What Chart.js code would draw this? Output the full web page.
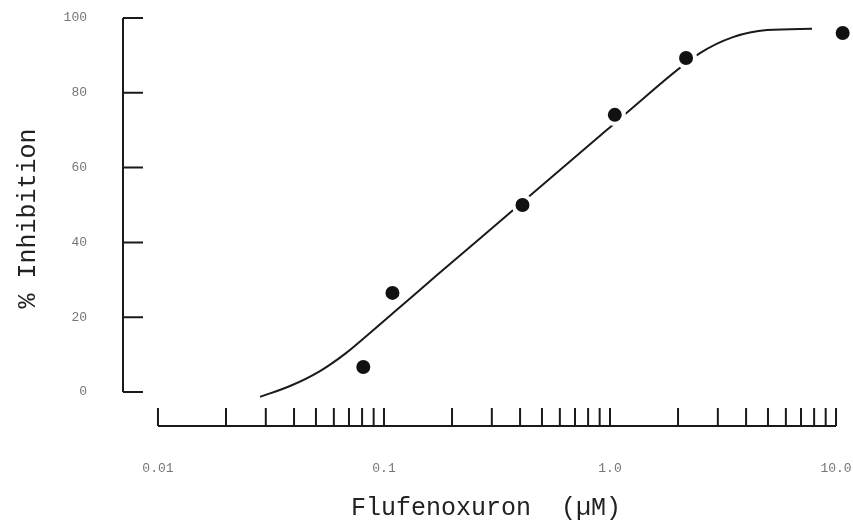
<!DOCTYPE html>
<html>
<head>
<meta charset="utf-8">
<script src="https://cdn.jsdelivr.net/npm/chart.js@4"></script>
<style>
  html, body { margin: 0; padding: 0; background: #fff; }
  #wrap { width: 853px; height: 524px; }
</style>
</head>
<body>
<div id="wrap"><canvas id="chart"></canvas></div>
<script>
// measured points (uM, % inhibition)
const concentrations = [0.081, 0.109, 0.41, 1.05, 2.17, 10.7];
const inhibition = [6.7, 26.5, 50.0, 74.1, 89.3, 96.0];

// fitted curve
const curveX = [0.0283, 0.0384, 0.0521, 0.0672, 0.0867, 0.1178, 0.1717, 0.361, 0.970, 1.226, 2.50, 3.50, 4.95, 7.83];
const curveY = [-1.3, 1.6, 5.6, 10.2, 15.8, 22.7, 31.3, 47.9, 70.1, 75.4, 90.6, 94.9, 96.8, 97.1];

// axis labels
const xLabelValues = [0.01, 0.1, 1, 10];
const xTickLabels = ['0.01', '0.1', '1.0', '10.0'];
const yTickValues = [0, 20, 40, 60, 80, 100];

// tick marks on the log axis: 1..9 in each decade, then 10
const xMinorTicks = [];
[0.01, 0.1, 1].forEach(d => {
    for (let m = 1; m <= 9; m++) xMinorTicks.push(+(d * m).toPrecision(3));
});
xMinorTicks.push(10);

const mono = "'Liberation Mono', 'DejaVu Sans Mono', monospace";

// draws the typewriter-style axes with ticks pointing into the plot
const paperAxes = {
    id: 'paperAxes',
    beforeDatasetsDraw(chart) {
        const { ctx, chartArea, scales: { x, y } } = chart;
        ctx.save();
        ctx.strokeStyle = '#1a1a1a';
        ctx.lineWidth = 2;

        const yl = chartArea.left + 1;
        ctx.beginPath();
        ctx.moveTo(yl, y.getPixelForValue(100));
        ctx.lineTo(yl, y.getPixelForValue(0));
        yTickValues.forEach(v => {
            const py = y.getPixelForValue(v);
            ctx.moveTo(yl, py);
            ctx.lineTo(yl + 20, py);
        });
        ctx.stroke();

        const xb = chartArea.bottom - 1;
        ctx.beginPath();
        ctx.moveTo(x.getPixelForValue(0.01), xb);
        ctx.lineTo(x.getPixelForValue(10), xb);
        xMinorTicks.forEach(v => {
            const px = x.getPixelForValue(v);
            ctx.moveTo(px, xb);
            ctx.lineTo(px, xb - 18);
        });
        ctx.stroke();
        ctx.restore();
    }
};

new Chart(document.getElementById('chart'), {
    type: 'scatter',
    data: {
        datasets: [
            {
                label: 'Measured',
                data: concentrations.map((c, i) => ({ x: c, y: inhibition[i] })),
                pointRadius: 9,
                pointHoverRadius: 9,
                pointBorderWidth: 4,
                pointBorderColor: '#ffffff',
                pointBackgroundColor: '#111111',
                clip: false
            },
            {
                label: 'Fit',
                data: curveX.map((c, i) => ({ x: c, y: curveY[i] })),
                showLine: true,
                pointRadius: 0,
                borderColor: '#1a1a1a',
                borderWidth: 2,
                cubicInterpolationMode: 'monotone'
            }
        ]
    },
    options: {
        responsive: true,
        maintainAspectRatio: false,
        animation: false,
        layout: { autoPadding: false, padding: { top: 10, right: 3, bottom: 0, left: 0 } },
        plugins: {
            legend: { display: false },
            tooltip: { enabled: false }
        },
        scales: {
            x: {
                type: 'logarithmic',
                min: 0.006932,
                max: 11.53,
                grid: { display: false, drawTicks: false },
                border: { display: false },
                afterBuildTicks: s => { s.ticks = xLabelValues.map(v => ({ value: v })); },
                afterFit: s => { s.height = 97; s.paddingLeft = 0; s.paddingRight = 0; },
                ticks: {
                    padding: 34,
                    autoSkip: false,
                    maxRotation: 0,
                    color: '#777',
                    font: { family: mono, size: 13 },
                    callback: v => xTickLabels[xLabelValues.indexOf(v)] ?? ''
                },
                title: {
                    display: true,
                    text: 'Flufenoxuron  (\u00b5M)',
                    color: '#222',
                    font: { family: mono, size: 25 },
                    padding: { top: 0, bottom: 1 }
                }
            },
            y: {
                min: -9.358,
                max: 102.14,
                grid: { display: false, drawTicks: false },
                border: { display: false },
                afterBuildTicks: s => { s.ticks = yTickValues.map(v => ({ value: v })); },
                afterFit: s => { s.width = 122; s.paddingTop = 0; s.paddingBottom = 0; },
                ticks: {
                    padding: 35,
                    color: '#777',
                    font: { family: mono, size: 13 }
                },
                title: {
                    display: true,
                    text: '% Inhibition',
                    color: '#222',
                    font: { family: mono, size: 25 },
                    padding: { top: 13, bottom: 0 }
                }
            }
        }
    },
    plugins: [paperAxes]
});
</script>
</body>
</html>
